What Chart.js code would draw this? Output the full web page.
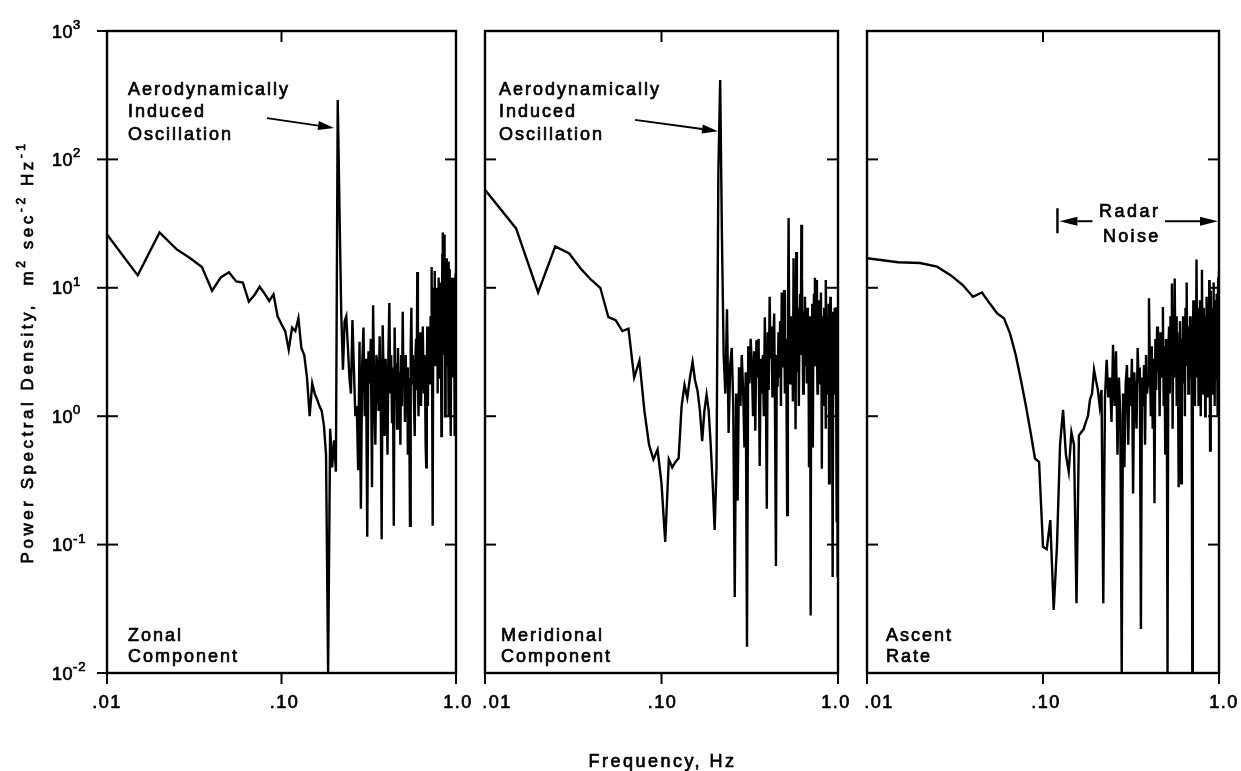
<!DOCTYPE html>
<html><head><meta charset="utf-8">
<script src="https://cdn.jsdelivr.net/npm/chart.js@4.4.1/dist/chart.umd.min.js"></script>
<style>
html,body{margin:0;padding:0;background:#fff;}
#wrap{position:relative;width:1241px;height:771px;overflow:hidden;}
#wrap canvas{position:absolute;left:0;top:0;}
</style></head><body>
<div id="wrap">
<canvas id="c1" width="1241" height="771"></canvas>
<canvas id="c2" width="1241" height="771"></canvas>
<canvas id="c3" width="1241" height="771"></canvas>
</div>
<script>
// Frequency grid (Hz)
const freqHz = [
 0.010,0.015,0.020,0.025,0.030,0.035,0.040,0.045,0.050,0.055,0.060,0.065,0.070,0.075,0.080,0.085,0.090,0.095,
 0.100,0.105,0.110,0.115,0.120,0.125,0.130,0.135,0.140,0.145,0.150,0.155,0.160,0.165,0.170,0.175,0.180,0.185,0.190,0.195,
 0.200,0.205,0.210,0.215,0.220,0.225,0.230,0.235,0.240,0.245,0.250,0.255,0.260,0.265,0.270,0.275,0.280,0.285,0.290,0.295,
 0.300,0.305,0.310,0.315,0.320,0.325,0.330,0.335,0.340,0.345,0.350,0.355,0.360,0.365,0.370,0.375,0.380,0.385,0.390,0.395,
 0.400,0.405,0.410,0.415,0.420,0.425,0.430,0.435,0.440,0.445,0.450,0.455,0.460,0.465,0.470,0.475,0.480,0.485,0.490,0.495,
 0.500,0.505,0.510,0.515,0.520,0.525,0.530,0.535,0.540,0.545,0.550,0.555,0.560,0.565,0.570,0.575,0.580,0.585,0.590,0.595,
 0.600,0.605,0.610,0.615,0.620,0.625,0.630,0.635,0.640,0.645,0.650,0.655,0.660,0.665,0.670,0.675,0.680,0.685,0.690,0.695,
 0.700,0.705,0.710,0.715,0.720,0.725,0.730,0.735,0.740,0.745,0.750,0.755,0.760,0.765,0.770,0.775,0.780,0.785,0.790,0.795,
 0.800,0.805,0.810,0.815,0.820,0.825,0.830,0.835,0.840,0.845,0.850,0.855,0.860,0.865,0.870,0.875,0.880,0.885,0.890,0.895,
 0.900,0.905,0.910,0.915,0.920,0.925,0.930,0.935,0.940,0.945,0.950,0.955,0.960,0.965,0.970,0.975,0.980,0.985,0.990,0.995,
 1.000
];
// Zonal component PSD (m^2 sec^-2 Hz^-1)
const psdZonal = [
 26,12.5,27,20,17,14.5,9.5,12.1,13.2,11.2,11,7.8,8.8,10.2,9.0,7.9,8.9,6.0,
 5.2,4.6,3.3,4.9,4.6,5.8,3.4,3.0,2.0,1.0,1.8,1.5,1.35,1.2,1.1,0.85,0.5,0.01,0.8,0.4,
 0.65,0.37,290,40,6.3,2.3,5.5,6.0,3.5,2.0,1.5,5.6,2.3,1.0,1.2,0.38,3.8,0.19,2.5,4.9,
 1.0,2.8,0.115,3.2,1.8,4.0,0.28,7.3,1.5,0.6,3.0,2.2,1.1,4.2,1.6,0.11,5.1,2.0,0.7,2.8,
 1.8,0.5,3.2,7.6,1.5,3.0,0.9,2.4,0.14,4.9,1.6,2.6,0.8,3.4,1.4,2.2,0.6,3.0,1.2,6.5,
 1.8,2.5,0.9,3.0,1.5,2.4,0.5,2.0,0.9,0.14,3.5,7.0,1.8,3.0,2.2,1.2,0.7,2.8,4.0,1.6,
 13.3,2.0,1.0,3.5,2.5,4.5,1.2,2.0,3.2,5.0,2.4,1.5,3.0,1.8,0.6,0.4,2.0,5.0,1.2,4.0,
 2.5,5.0,1.8,6.0,3.0,14.5,1.6,0.14,4.0,10.0,3.5,13.5,2.5,5.5,8.0,3.0,10.0,1.5,6.5,12.0,
 4.0,9.0,2.0,7.0,11.0,0.7,5.0,18.0,27.0,6.0,3.0,26.0,8.0,1.0,15.0,4.0,9.0,17.0,2.5,12.0,
 5.0,16.0,1.0,8.0,14.0,3.0,10.0,0.7,6.0,12.0,4.0,9.0,2.0,11.0,5.0,12.0,0.7,8.0,3.0,13.0,
 10.0
];
// Meridional component PSD
const psdMeridional = [
 58,29,9.2,21,18.5,14,11.5,10,5.9,5.6,4.6,4.8,2.0,2.7,1.1,0.6,0.46,0.55,
 0.3,0.105,0.46,0.40,0.44,0.47,1.2,1.75,1.39,2.0,2.64,1.9,1.58,1.11,0.64,1.1,1.47,1.11,0.6,0.3,
 0.13,0.4,80,415,25,3.0,1.5,6.8,0.74,2.5,3.4,1.2,0.039,1.5,0.22,2.4,1.2,3.0,1.6,0.57,
 2.2,0.016,3.5,1.8,4.0,2.5,1.0,3.2,0.77,3.9,2.0,4.0,0.41,2.8,1.5,3.0,1.0,5.9,2.0,0.19,
 4.5,1.6,8.5,2.8,5.0,1.4,3.5,6.3,0.9,0.068,3.0,1.7,4.5,2.0,5.5,1.2,9.2,2.4,3.8,9.6,
 1.5,4.0,2.2,0.17,5.0,35,3.0,1.8,6.0,2.5,4.5,1.3,17,3.5,6.0,0.79,19,4.0,2.2,7.0,
 1.2,5.0,9.0,3.0,31,12,4.0,1.5,6.5,2.5,8.5,3.5,5.5,1.8,7.0,2.8,4.5,0.4,3.5,6.0,
 0.028,5.0,2.0,7.5,0.57,4.5,9.0,3.0,12,2.5,6.0,11.5,3.5,1.5,7.0,2.5,8.0,3.0,5.5,1.8,
 9.2,3.5,0.39,6.0,2.5,4.5,1.2,7.0,3.0,5.0,0.8,11.5,3.5,6.0,1.5,4.5,2.0,7.5,0.3,5.0,
 2.5,8.5,3.0,1.0,5.0,2.0,6.5,0.056,4.0,2.2,6.0,3.0,7.0,1.5,5.0,2.5,7.1,0.15,3.5,0.056,
 4.0
];
// Ascent rate PSD
const psdAscent = [
 17,15.8,15.6,14.6,12.5,10.5,8.5,9.2,7.5,6.3,5.8,4.4,3.0,1.9,1.2,0.75,0.47,0.44,
 0.096,0.092,0.155,0.031,0.096,0.6,1.12,0.5,0.37,0.75,0.6,0.035,0.71,0.75,0.79,0.9,1.0,1.35,1.5,2.3,
 1.9,1.6,1.2,1.6,0.035,1.4,2.75,1.4,2.0,0.9,3.6,1.2,3.2,0.5,2.0,1.0,0.01,1.5,0.4,1.8,
 2.5,0.6,2.0,1.2,2.8,0.25,2.2,1.4,0.8,3.4,1.8,2.4,0.022,2.0,1.2,2.5,0.6,3.0,1.5,1.8,
 8.3,2.5,1.0,3.5,0.8,2.8,0.21,4.0,1.6,5.0,2.2,3.5,1.0,4.5,2.0,2.5,7.1,1.2,3.5,0.5,
 4.0,2.0,0.01,3.0,5.0,1.5,6.0,2.5,10.8,0.8,4.0,2.0,11.8,3.0,6.0,1.2,4.5,2.0,0.28,3.5,
 5.5,2.0,0.3,4.0,1.8,6.0,2.5,4.5,1.0,7.0,3.0,11.0,2.5,5.0,1.5,4.0,2.2,6.0,2.0,4.5,
 1.4,0.01,3.5,8.0,2.5,5.0,1.2,6.5,3.0,16.6,4.0,2.0,7.0,1.2,5.0,2.5,8.0,3.5,1.0,6.0,
 13.8,3.0,5.5,1.5,7.0,2.5,4.5,1.0,6.0,3.0,8.5,2.0,5.0,1.4,7.5,3.0,11.5,4.0,0.54,6.0,
 9.5,2.5,5.0,1.5,7.0,3.0,11.0,2.0,5.0,1.2,8.0,3.0,6.0,2.0,9.0,3.5,1.0,6.5,12.0,4.0,
 13.6
];
const xTickValues = [0.01, 0.1, 1.0];
const xTickLabels = ['.01', '.10', '1.0'];
const yTickExponents = [3, 2, 1, 0, -1, -2];
const panelNames = [['Zonal', 'Component'], ['Meridional', 'Component'], ['Ascent', 'Rate']];
const peakNote = ['Aerodynamically', 'Induced', 'Oscillation'];
const noiseNote = ['Radar', 'Noise'];
const yTitleParts = [['Power Spectral Density,  m', 0], ['2', 1], [' sec', 0], ['-2', 1], [' Hz', 0], ['-1', 1]];
const xTitle = 'Frequency, Hz';

const FONT = '"Liberation Sans", Arial, sans-serif';
function setFont(ctx, size, sp) { ctx.font = size + 'px ' + FONT; ctx.letterSpacing = (sp || 0) + 'px'; }
function text(ctx, s, x, y, size, sp, align) {
  setFont(ctx, size, sp); ctx.textAlign = align || 'left'; ctx.textBaseline = 'alphabetic';
  ctx.fillText(s, x, y);
  ctx.save(); ctx.lineWidth = 0.7; ctx.strokeText(s, x, y); ctx.restore();
}
function seg(ctx, x1, y1, x2, y2) { ctx.beginPath(); ctx.moveTo(x1, y1); ctx.lineTo(x2, y2); ctx.stroke(); }
function arrow(ctx, x1, y1, x2, y2, head, hw) {
  const a = Math.atan2(y2 - y1, x2 - x1), bx = x2 - head * Math.cos(a), by = y2 - head * Math.sin(a);
  seg(ctx, x1, y1, bx, by);
  ctx.beginPath(); ctx.moveTo(x2, y2);
  ctx.lineTo(bx - hw * Math.sin(a), by + hw * Math.cos(a));
  ctx.lineTo(bx + hw * Math.sin(a), by - hw * Math.cos(a));
  ctx.closePath(); ctx.fill();
}

const decor = {
  id: 'decor',
  afterDraw(chart, args, o) {
    const ctx = chart.ctx, a = chart.chartArea, xs = chart.scales.x, ys = chart.scales.y;
    ctx.save();
    ctx.strokeStyle = '#000'; ctx.fillStyle = '#000';
    ctx.lineWidth = 2.4;
    ctx.strokeRect(a.left, a.top, a.right - a.left, a.bottom - a.top);
    ctx.lineWidth = 2;
    yTickExponents.forEach(e => {
      const py = ys.getPixelForValue(Math.pow(10, e));
      if (o.outerY) seg(ctx, a.left - 10, py, a.left, py);
      if (e < 3 && e > -2) { seg(ctx, a.left, py, a.left + 11, py); seg(ctx, a.right - 11, py, a.right, py); }
      if (o.yLabels) {
        text(ctx, '10', 52, py + 6.5, 18, 0.5);
        text(ctx, String(e), 73, py - 2, 13, 1);
      }
    });
    xTickValues.forEach((v, i) => {
      const px = xs.getPixelForValue(v);
      seg(ctx, px, a.bottom, px, a.bottom + 11);
      if (v > 0.01 && v < 1) seg(ctx, px, a.top, px, a.top + 11);
      text(ctx, xTickLabels[i], px + o.xLabelShift[i], 708, 18, 1.5, 'center');
    });
    // panel name
    text(ctx, o.names[0], a.left + o.nameDx, 641, 18, 2);
    text(ctx, o.names[1], a.left + o.nameDx, 662, 18, 2);
    // peak annotation
    if (o.peak) {
      const p = o.peak;
      text(ctx, peakNote[0], a.left + p.dx, 95, 18, 2);
      text(ctx, peakNote[1], a.left + p.dx, 117, 18, 2);
      text(ctx, peakNote[2], a.left + p.dx, 140, 18, 2);
      ctx.lineWidth = 1.8;
      arrow(ctx, xs.getPixelForValue(p.tail[0]), ys.getPixelForValue(p.tail[1]),
                 xs.getPixelForValue(p.tip[0]), ys.getPixelForValue(p.tip[1]), 16, 4.5);
    }
    if (o.noise) {
      const xl = xs.getPixelForValue(0.124), xr = a.right, yy = ys.getPixelForValue(33);
      ctx.lineWidth = 2.4;
      seg(ctx, xl - 2, yy - 13, xl - 2, yy + 12);
      ctx.lineWidth = 2;
      arrow(ctx, xl + 33, yy, xl, yy, 18, 4.5);
      arrow(ctx, xr - 54, yy, xr - 1, yy, 18, 4.5);
      text(ctx, noiseNote[0], 1099, yy - 4, 18, 2.5);
      text(ctx, noiseNote[1], 1103, yy + 21, 18, 2.3);
    }
    if (o.yTitle) {
      ctx.save();
      ctx.translate(33, 352);
      ctx.rotate(-Math.PI / 2);
      let w0 = 0, n = 0;
      yTitleParts.forEach(([s, sup]) => { setFont(ctx, sup ? 12 : 17, 0); w0 += ctx.measureText(s).width; n += s.length; });
      const sp = (423 - w0) / n;
      let x = -423 / 2;
      ctx.textAlign = 'left'; ctx.textBaseline = 'alphabetic';
      ctx.lineWidth = 0.7;
      yTitleParts.forEach(([s, sup]) => {
        setFont(ctx, sup ? 12 : 17, sp);
        ctx.fillText(s, x, sup ? -8 : 0);
        ctx.strokeText(s, x, sup ? -8 : 0);
        x += ctx.measureText(s).width;
      });
      ctx.restore();
    }
    if (o.xTitle) {
      text(ctx, xTitle, xs.getPixelForValue(0.1) + 1, 767, 18, 2.5, 'center');
    }
    ctx.restore();
  }
};

function makeChart(id, psd, pad, deco) {
  return new Chart(document.getElementById(id), {
    type: 'line',
    data: { datasets: [{ data: freqHz.map((f, i) => ({ x: f, y: psd[i] })),
      borderColor: '#000', borderWidth: 2.4, pointRadius: 0, tension: 0, fill: false,
      borderJoinStyle: 'miter' }] },
    options: {
      responsive: false, animation: false, devicePixelRatio: 1,
      layout: { padding: pad },
      scales: {
        x: { type: 'logarithmic', min: 0.01, max: 1.0, display: false },
        y: { type: 'logarithmic', min: 0.01, max: 1000, display: false }
      },
      plugins: { legend: { display: false }, tooltip: { enabled: false }, decor: deco }
    },
    plugins: [decor]
  });
}

makeChart('c1', psdZonal, { left: 107, right: 1241 - 456, top: 31, bottom: 771 - 673 },
  { outerY: true, yLabels: true, xLabelShift: [0, 3, 2], names: panelNames[0], nameDx: 21,
    peak: { dx: 21, tail: [0.0826, 210], tip: [0.200, 176] }, yTitle: true });
makeChart('c2', psdMeridional, { left: 485, right: 1241 - 838, top: 31, bottom: 771 - 673 },
  { outerY: false, yLabels: false, xLabelShift: [12, 1, -2], names: panelNames[1], nameDx: 16,
    peak: { dx: 14, tail: [0.0708, 203], tip: [0.209, 166] }, xTitle: true });
makeChart('c3', psdAscent, { left: 867, right: 1241 - 1219, top: 31, bottom: 771 - 673 },
  { outerY: false, yLabels: false, xLabelShift: [12, 3, 5], names: panelNames[2], nameDx: 19,
    noise: true });
</script>
</body></html>
